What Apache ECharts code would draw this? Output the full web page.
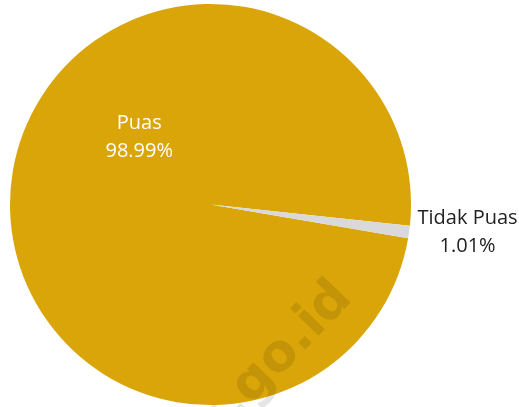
<!DOCTYPE html>
<html>
<head>
<meta charset="utf-8">
<script src="https://cdn.jsdelivr.net/npm/echarts@6/dist/echarts.min.js"></script>
<style>
  html, body { margin: 0; padding: 0; background: #fff; }
  #chart { width: 519px; height: 407px; }
</style>
</head>
<body>
<div id="chart"></div>
<script>
// data
const categories = ['Puas', 'Tidak Puas'];
const shares = [98.99, 1.01];
const sliceColors = ['#DAA508', '#D9D9D9'];
const watermark = 'bps.go.id';

const chart = echarts.init(document.getElementById('chart'), null, { renderer: 'canvas' });

const font = '"Open Sans", "Noto Sans", sans-serif';

const option = {
  backgroundColor: '#fff',
  animation: false,
  series: [{
    type: 'pie',
    center: [210.5, 204.5],
    radius: [0, 200.5],
    startAngle: -9.7,
    clockwise: true,
    avoidLabelOverlap: false,
    itemStyle: { borderWidth: 0 },
    emphasis: { disabled: true },
    label: {
      fontFamily: font,
      fontSize: 20,
      lineHeight: 28
    },
    labelLine: { show: false, length: 4, length2: 0 },
    // Puas label sits up-left of the slice bisector in the original
    labelLayout: (p) => (p.dataIndex === 0 ? { dx: 31, dy: -53 } : {}),
    data: categories.map((name, i) => ({
      name,
      value: shares[i],
      itemStyle: { color: sliceColors[i] },
      label: i === 0
        ? {
            position: 'inside',
            color: '#fff',
            formatter: (p) => p.name + '\n' + p.value.toFixed(2) + '%'
          }
        : {
            position: 'outside',
            color: '#222',
            formatter: (p) => '{c|' + p.name + '}\n{c|' + p.value.toFixed(2) + '%}',
            rich: {
              c: { width: 99, align: 'center', fontFamily: font, fontSize: 20, lineHeight: 28, color: '#222' }
            }
          }
    }))
  }],
  graphic: [{
    type: 'text',
    z: 100,
    x: 344,
    y: 290,
    rotation: 46 * Math.PI / 180,
    style: {
      text: watermark,
      fontFamily: '"DejaVu Sans", sans-serif',
      fontWeight: 'bold',
      fontSize: 52,
      fill: 'rgba(0,0,0,0.1)',
      align: 'right',
      verticalAlign: 'middle'
    }
  }]
};

chart.setOption(option);
</script>
</body>
</html>
